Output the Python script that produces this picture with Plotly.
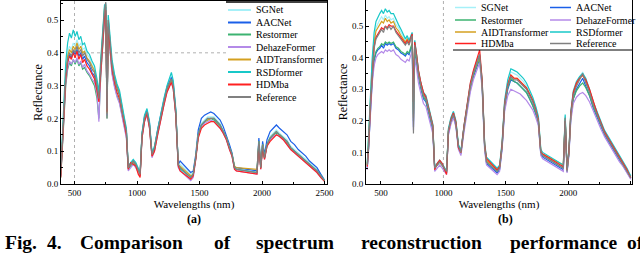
import plotly.graph_objects as go

WAVELENGTH = [
    390, 400, 415, 430, 445, 460, 475, 490, 505, 520,
    535, 550, 565, 580, 600, 620, 640, 660, 680, 695,
    710, 725, 740, 750, 760, 770, 785, 800, 820, 840,
    860, 880, 900, 915, 930, 950, 970, 990, 1010, 1025,
    1040, 1060, 1080, 1100, 1120, 1140, 1165, 1190, 1215, 1240,
    1260, 1275, 1290, 1310, 1330, 1345, 1430, 1450, 1470, 1490,
    1515, 1540, 1565, 1590, 1615, 1640, 1665, 1690, 1715, 1740,
    1760, 1780, 1795, 1960, 1975, 1990, 2005, 2020, 2040, 2065,
    2090, 2115, 2140, 2170, 2200, 2230, 2260, 2290, 2320, 2350,
    2380, 2410, 2440, 2470, 2500]

NAMES = ["SGNet", "AACNet", "Restormer", "DehazeFormer",
         "AIDTransformer", "RSDformer", "HDMba", "Reference"]
COLORS = ["#a6f0f8", "#1a5fe8", "#3cb371", "#b48ae8",
          "#d4a020", "#18c8c8", "#ff2020", "#808080"]

# ---------------- panel (a) ----------------
A_SGNET = [
    0.035, 0.110, 0.230, 0.345, 0.400, 0.420, 0.410, 0.430, 0.420, 0.440,
    0.420, 0.430, 0.410, 0.415, 0.395, 0.385, 0.365, 0.350, 0.310, 0.270,
    0.370, 0.460, 0.540, 0.550, 0.230, 0.510, 0.430, 0.370, 0.330, 0.300,
    0.280, 0.230, 0.195, 0.165, 0.055, 0.065, 0.075, 0.065, 0.045, 0.035,
    0.155, 0.205, 0.225, 0.185, 0.095, 0.115, 0.165, 0.215, 0.255, 0.295,
    0.320, 0.330, 0.310, 0.225, 0.065, 0.060, 0.030, 0.035, 0.085, 0.155,
    0.185, 0.195, 0.205, 0.205, 0.205, 0.195, 0.185, 0.165, 0.145, 0.115,
    0.095, 0.055, 0.050, 0.040, 0.135, 0.055, 0.125, 0.085, 0.125, 0.145,
    0.155, 0.165, 0.155, 0.145, 0.135, 0.115, 0.105, 0.095, 0.085, 0.075,
    0.065, 0.055, 0.045, 0.030, 0.012]
A_AACNET = [
    0.025, 0.095, 0.215, 0.325, 0.375, 0.395, 0.385, 0.405, 0.395, 0.410,
    0.390, 0.400, 0.380, 0.390, 0.370, 0.360, 0.340, 0.330, 0.295, 0.255,
    0.350, 0.440, 0.520, 0.540, 0.210, 0.490, 0.410, 0.360, 0.320, 0.295,
    0.275, 0.225, 0.190, 0.160, 0.050, 0.060, 0.070, 0.060, 0.040, 0.030,
    0.150, 0.205, 0.225, 0.185, 0.090, 0.110, 0.165, 0.215, 0.255, 0.295,
    0.315, 0.325, 0.305, 0.225, 0.060, 0.070, 0.035, 0.040, 0.090, 0.165,
    0.200, 0.210, 0.215, 0.220, 0.215, 0.205, 0.195, 0.175, 0.150, 0.120,
    0.095, 0.050, 0.050, 0.040, 0.140, 0.055, 0.130, 0.090, 0.135, 0.160,
    0.170, 0.180, 0.170, 0.160, 0.150, 0.130, 0.120, 0.105, 0.095, 0.085,
    0.070, 0.060, 0.050, 0.030, 0.012]
A_RESTORMER = [
    0.020, 0.085, 0.200, 0.300, 0.350, 0.370, 0.360, 0.380, 0.365, 0.380,
    0.360, 0.370, 0.350, 0.355, 0.340, 0.330, 0.315, 0.300, 0.260, 0.200,
    0.330, 0.420, 0.500, 0.520, 0.200, 0.470, 0.395, 0.340, 0.300, 0.270,
    0.250, 0.210, 0.175, 0.145, 0.045, 0.055, 0.065, 0.055, 0.035, 0.025,
    0.145, 0.195, 0.215, 0.175, 0.085, 0.105, 0.155, 0.205, 0.245, 0.285,
    0.305, 0.315, 0.295, 0.215, 0.055, 0.050, 0.020, 0.030, 0.080, 0.150,
    0.180, 0.190, 0.195, 0.200, 0.195, 0.185, 0.175, 0.160, 0.140, 0.110,
    0.090, 0.050, 0.045, 0.035, 0.125, 0.050, 0.120, 0.080, 0.120, 0.140,
    0.150, 0.155, 0.150, 0.140, 0.125, 0.110, 0.100, 0.090, 0.080, 0.070,
    0.060, 0.050, 0.040, 0.025, 0.010]
A_DEHAZE = [
    0.025, 0.090, 0.205, 0.310, 0.355, 0.375, 0.365, 0.380, 0.370, 0.385,
    0.365, 0.375, 0.355, 0.365, 0.345, 0.335, 0.320, 0.310, 0.275, 0.190,
    0.335, 0.425, 0.505, 0.525, 0.210, 0.475, 0.390, 0.335, 0.295, 0.265,
    0.245, 0.205, 0.170, 0.140, 0.040, 0.050, 0.060, 0.050, 0.035, 0.025,
    0.140, 0.190, 0.210, 0.170, 0.080, 0.100, 0.150, 0.200, 0.240, 0.280,
    0.300, 0.310, 0.290, 0.210, 0.050, 0.040, 0.010, 0.020, 0.075, 0.145,
    0.175, 0.185, 0.190, 0.195, 0.190, 0.180, 0.170, 0.155, 0.135, 0.105,
    0.085, 0.045, 0.040, 0.030, 0.120, 0.045, 0.115, 0.075, 0.115, 0.135,
    0.145, 0.150, 0.145, 0.135, 0.120, 0.105, 0.095, 0.085, 0.075, 0.065,
    0.055, 0.045, 0.035, 0.020, 0.008]
A_AIDT = [
    0.030, 0.105, 0.225, 0.340, 0.390, 0.410, 0.400, 0.420, 0.410, 0.430,
    0.410, 0.420, 0.400, 0.405, 0.385, 0.375, 0.360, 0.345, 0.310, 0.265,
    0.365, 0.455, 0.535, 0.545, 0.215, 0.500, 0.425, 0.365, 0.325, 0.295,
    0.275, 0.225, 0.190, 0.160, 0.050, 0.060, 0.070, 0.060, 0.040, 0.030,
    0.150, 0.200, 0.220, 0.180, 0.090, 0.110, 0.160, 0.210, 0.250, 0.290,
    0.310, 0.320, 0.300, 0.220, 0.060, 0.055, 0.025, 0.030, 0.080, 0.150,
    0.180, 0.190, 0.195, 0.200, 0.200, 0.190, 0.180, 0.160, 0.140, 0.110,
    0.090, 0.055, 0.050, 0.045, 0.130, 0.050, 0.120, 0.080, 0.120, 0.140,
    0.150, 0.160, 0.150, 0.140, 0.130, 0.110, 0.100, 0.090, 0.080, 0.070,
    0.060, 0.050, 0.040, 0.025, 0.010]
A_RSD = [
    0.040, 0.120, 0.250, 0.370, 0.430, 0.460, 0.445, 0.470, 0.450, 0.465,
    0.440, 0.450, 0.425, 0.430, 0.405, 0.395, 0.375, 0.360, 0.320, 0.280,
    0.380, 0.470, 0.545, 0.550, 0.230, 0.515, 0.440, 0.380, 0.335, 0.305,
    0.285, 0.235, 0.200, 0.170, 0.055, 0.065, 0.075, 0.065, 0.045, 0.035,
    0.155, 0.210, 0.230, 0.190, 0.095, 0.115, 0.165, 0.215, 0.260, 0.300,
    0.325, 0.340, 0.315, 0.230, 0.060, 0.045, 0.020, 0.030, 0.080, 0.150,
    0.180, 0.190, 0.200, 0.200, 0.200, 0.190, 0.180, 0.160, 0.140, 0.110,
    0.090, 0.050, 0.045, 0.035, 0.130, 0.050, 0.120, 0.080, 0.120, 0.140,
    0.150, 0.160, 0.150, 0.140, 0.130, 0.110, 0.100, 0.090, 0.080, 0.070,
    0.060, 0.050, 0.040, 0.025, 0.012]
A_HDMBA = [
    0.020, 0.090, 0.210, 0.320, 0.370, 0.390, 0.380, 0.400, 0.385, 0.405,
    0.380, 0.395, 0.370, 0.380, 0.360, 0.350, 0.335, 0.320, 0.285, 0.250,
    0.340, 0.430, 0.510, 0.530, 0.220, 0.480, 0.400, 0.350, 0.310, 0.280,
    0.260, 0.215, 0.180, 0.150, 0.045, 0.065, 0.060, 0.055, 0.030, 0.020,
    0.140, 0.190, 0.215, 0.170, 0.085, 0.100, 0.150, 0.200, 0.240, 0.280,
    0.300, 0.310, 0.290, 0.210, 0.055, 0.040, 0.015, 0.025, 0.075, 0.140,
    0.170, 0.180, 0.185, 0.190, 0.190, 0.180, 0.170, 0.155, 0.135, 0.105,
    0.085, 0.045, 0.040, 0.030, 0.120, 0.045, 0.110, 0.075, 0.115, 0.130,
    0.140, 0.150, 0.145, 0.135, 0.120, 0.105, 0.095, 0.085, 0.075, 0.065,
    0.055, 0.045, 0.035, 0.020, 0.008]
A_REFERENCE = [
    0.030, 0.100, 0.220, 0.330, 0.380, 0.400, 0.390, 0.410, 0.400, 0.420,
    0.400, 0.410, 0.390, 0.400, 0.380, 0.370, 0.350, 0.340, 0.300, 0.260,
    0.360, 0.450, 0.530, 0.555, 0.200, 0.500, 0.420, 0.360, 0.320, 0.290,
    0.270, 0.220, 0.190, 0.160, 0.050, 0.060, 0.070, 0.060, 0.040, 0.030,
    0.150, 0.200, 0.220, 0.180, 0.090, 0.110, 0.160, 0.210, 0.250, 0.290,
    0.310, 0.320, 0.300, 0.220, 0.060, 0.050, 0.020, 0.030, 0.080, 0.150,
    0.180, 0.190, 0.200, 0.200, 0.200, 0.190, 0.180, 0.160, 0.140, 0.110,
    0.090, 0.050, 0.045, 0.035, 0.130, 0.050, 0.120, 0.080, 0.120, 0.140,
    0.150, 0.160, 0.150, 0.140, 0.130, 0.110, 0.100, 0.090, 0.080, 0.070,
    0.060, 0.050, 0.040, 0.025, 0.010]

# ---------------- panel (b) ----------------
B_SGNET = [
    0.065, 0.130, 0.265, 0.385, 0.460, 0.495, 0.510, 0.520, 0.530, 0.520,
    0.535, 0.525, 0.530, 0.520, 0.525, 0.505, 0.495, 0.480, 0.470, 0.455,
    0.465, 0.455, 0.470, 0.480, 0.230, 0.455, 0.410, 0.355, 0.315, 0.285,
    0.275, 0.245, 0.215, 0.185, 0.055, 0.065, 0.075, 0.065, 0.050, 0.040,
    0.175, 0.210, 0.230, 0.200, 0.125, 0.105, 0.185, 0.255, 0.315, 0.355,
    0.375, 0.395, 0.405, 0.325, 0.125, 0.075, 0.045, 0.055, 0.130, 0.260,
    0.325, 0.355, 0.350, 0.345, 0.335, 0.325, 0.310, 0.290, 0.270, 0.240,
    0.210, 0.105, 0.095, 0.055, 0.215, 0.045, 0.105, 0.225, 0.290, 0.320,
    0.340, 0.355, 0.330, 0.295, 0.255, 0.225, 0.195, 0.165, 0.145, 0.125,
    0.105, 0.085, 0.065, 0.045, 0.025]
B_AACNET = [
    0.050, 0.105, 0.225, 0.330, 0.390, 0.415, 0.425, 0.430, 0.440, 0.430,
    0.445, 0.440, 0.445, 0.440, 0.445, 0.430, 0.425, 0.415, 0.410, 0.405,
    0.415, 0.410, 0.430, 0.440, 0.180, 0.420, 0.385, 0.340, 0.300, 0.270,
    0.260, 0.230, 0.200, 0.170, 0.050, 0.060, 0.070, 0.060, 0.045, 0.035,
    0.160, 0.195, 0.215, 0.185, 0.115, 0.095, 0.175, 0.245, 0.300, 0.340,
    0.360, 0.380, 0.395, 0.310, 0.115, 0.065, 0.035, 0.045, 0.115, 0.240,
    0.300, 0.330, 0.325, 0.320, 0.310, 0.300, 0.290, 0.270, 0.250, 0.220,
    0.195, 0.095, 0.085, 0.045, 0.200, 0.040, 0.095, 0.210, 0.270, 0.300,
    0.320, 0.335, 0.310, 0.280, 0.240, 0.210, 0.180, 0.155, 0.135, 0.115,
    0.095, 0.075, 0.055, 0.035, 0.018]
B_RESTORMER = [
    0.055, 0.110, 0.230, 0.335, 0.395, 0.420, 0.430, 0.435, 0.445, 0.440,
    0.450, 0.445, 0.450, 0.445, 0.450, 0.435, 0.430, 0.420, 0.415, 0.410,
    0.420, 0.415, 0.435, 0.445, 0.200, 0.425, 0.390, 0.345, 0.305, 0.275,
    0.265, 0.235, 0.205, 0.175, 0.050, 0.060, 0.070, 0.060, 0.045, 0.035,
    0.165, 0.200, 0.220, 0.190, 0.120, 0.100, 0.180, 0.250, 0.305, 0.345,
    0.365, 0.385, 0.400, 0.315, 0.120, 0.070, 0.040, 0.050, 0.120, 0.245,
    0.305, 0.335, 0.325, 0.320, 0.310, 0.300, 0.290, 0.270, 0.250, 0.225,
    0.195, 0.095, 0.090, 0.050, 0.205, 0.040, 0.100, 0.215, 0.270, 0.295,
    0.310, 0.320, 0.305, 0.280, 0.245, 0.215, 0.185, 0.160, 0.140, 0.120,
    0.100, 0.080, 0.060, 0.040, 0.020]
B_DEHAZE = [
    0.045, 0.100, 0.215, 0.320, 0.375, 0.400, 0.410, 0.415, 0.420, 0.415,
    0.425, 0.420, 0.425, 0.420, 0.425, 0.410, 0.405, 0.395, 0.390, 0.385,
    0.395, 0.390, 0.410, 0.420, 0.170, 0.400, 0.365, 0.320, 0.285, 0.255,
    0.245, 0.215, 0.190, 0.160, 0.040, 0.050, 0.060, 0.050, 0.040, 0.030,
    0.155, 0.190, 0.210, 0.180, 0.110, 0.090, 0.165, 0.235, 0.290, 0.330,
    0.350, 0.370, 0.385, 0.300, 0.105, 0.060, 0.030, 0.040, 0.110, 0.230,
    0.280, 0.300, 0.295, 0.290, 0.285, 0.275, 0.265, 0.250, 0.235, 0.210,
    0.185, 0.090, 0.080, 0.040, 0.190, 0.035, 0.090, 0.200, 0.255, 0.275,
    0.285, 0.290, 0.280, 0.260, 0.230, 0.200, 0.175, 0.150, 0.130, 0.110,
    0.090, 0.070, 0.055, 0.035, 0.015]
B_AIDT = [
    0.060, 0.125, 0.260, 0.375, 0.450, 0.485, 0.495, 0.505, 0.515, 0.510,
    0.525, 0.515, 0.520, 0.510, 0.515, 0.495, 0.485, 0.470, 0.460, 0.450,
    0.460, 0.450, 0.465, 0.475, 0.210, 0.450, 0.405, 0.355, 0.315, 0.285,
    0.275, 0.245, 0.215, 0.185, 0.050, 0.060, 0.070, 0.060, 0.050, 0.040,
    0.170, 0.205, 0.225, 0.195, 0.120, 0.100, 0.180, 0.250, 0.310, 0.350,
    0.370, 0.390, 0.405, 0.320, 0.120, 0.075, 0.045, 0.055, 0.125, 0.255,
    0.315, 0.345, 0.335, 0.335, 0.325, 0.315, 0.305, 0.285, 0.265, 0.235,
    0.205, 0.105, 0.095, 0.060, 0.210, 0.045, 0.100, 0.220, 0.285, 0.315,
    0.335, 0.345, 0.325, 0.295, 0.255, 0.225, 0.195, 0.165, 0.145, 0.125,
    0.105, 0.085, 0.065, 0.045, 0.022]
B_RSD = [
    0.065, 0.135, 0.275, 0.400, 0.480, 0.515, 0.530, 0.540, 0.550, 0.540,
    0.555, 0.545, 0.550, 0.540, 0.540, 0.520, 0.505, 0.490, 0.475, 0.460,
    0.470, 0.455, 0.470, 0.480, 0.220, 0.455, 0.410, 0.360, 0.320, 0.290,
    0.280, 0.250, 0.220, 0.190, 0.055, 0.065, 0.075, 0.065, 0.050, 0.040,
    0.175, 0.210, 0.230, 0.200, 0.125, 0.105, 0.185, 0.255, 0.315, 0.355,
    0.380, 0.400, 0.410, 0.330, 0.130, 0.085, 0.050, 0.060, 0.135, 0.265,
    0.330, 0.365, 0.360, 0.355, 0.345, 0.335, 0.320, 0.300, 0.275, 0.245,
    0.215, 0.110, 0.100, 0.060, 0.220, 0.050, 0.110, 0.230, 0.295, 0.325,
    0.340, 0.350, 0.335, 0.300, 0.260, 0.230, 0.200, 0.170, 0.150, 0.130,
    0.110, 0.090, 0.070, 0.050, 0.025]
B_HDMBA = [
    0.055, 0.115, 0.245, 0.360, 0.435, 0.465, 0.475, 0.485, 0.495, 0.490,
    0.500, 0.495, 0.505, 0.500, 0.500, 0.485, 0.475, 0.465, 0.455, 0.445,
    0.455, 0.445, 0.465, 0.475, 0.260, 0.450, 0.410, 0.360, 0.320, 0.290,
    0.275, 0.245, 0.215, 0.185, 0.045, 0.065, 0.075, 0.065, 0.045, 0.030,
    0.165, 0.205, 0.225, 0.195, 0.115, 0.100, 0.185, 0.260, 0.320, 0.360,
    0.385, 0.405, 0.425, 0.330, 0.125, 0.080, 0.045, 0.055, 0.125, 0.255,
    0.315, 0.345, 0.335, 0.335, 0.325, 0.315, 0.305, 0.285, 0.265, 0.235,
    0.205, 0.100, 0.095, 0.055, 0.200, 0.045, 0.105, 0.225, 0.290, 0.320,
    0.335, 0.345, 0.330, 0.300, 0.260, 0.225, 0.195, 0.165, 0.145, 0.125,
    0.105, 0.085, 0.065, 0.045, 0.020]
B_REFERENCE = [
    0.060, 0.120, 0.250, 0.360, 0.430, 0.460, 0.470, 0.480, 0.490, 0.480,
    0.500, 0.490, 0.500, 0.490, 0.500, 0.480, 0.470, 0.460, 0.450, 0.440,
    0.450, 0.440, 0.460, 0.470, 0.160, 0.440, 0.400, 0.350, 0.310, 0.280,
    0.270, 0.240, 0.210, 0.180, 0.050, 0.060, 0.070, 0.060, 0.050, 0.040,
    0.170, 0.200, 0.220, 0.190, 0.120, 0.100, 0.180, 0.250, 0.310, 0.350,
    0.370, 0.390, 0.410, 0.320, 0.120, 0.070, 0.040, 0.050, 0.120, 0.250,
    0.310, 0.340, 0.330, 0.330, 0.320, 0.310, 0.300, 0.280, 0.260, 0.230,
    0.200, 0.100, 0.090, 0.050, 0.210, 0.040, 0.100, 0.220, 0.280, 0.310,
    0.330, 0.350, 0.320, 0.290, 0.250, 0.220, 0.190, 0.160, 0.140, 0.120,
    0.100, 0.080, 0.060, 0.040, 0.020]

A_SERIES = [A_SGNET, A_AACNET, A_RESTORMER, A_DEHAZE, A_AIDT, A_RSD, A_HDMBA, A_REFERENCE]
B_SERIES = [B_SGNET, B_AACNET, B_RESTORMER, B_DEHAZE, B_AIDT, B_RSD, B_HDMBA, B_REFERENCE]

X_TICKS = [500, 1000, 1500, 2000, 2500]
Y_TICKS = [0.0, 0.1, 0.2, 0.3, 0.4, 0.5]
CAPTION_WORDS = ["Fig.", "4.", "Comparison", "of", "spectrum", "reconstruction", "performance", "of"]

SERIF = "Liberation Serif, Times New Roman, serif"
W, H = 640, 255


def px_x(p):
    return p / W


def px_y(p):
    return (H - p) / H


fig = go.Figure()
for name, color, ya, yb in zip(NAMES, COLORS, A_SERIES, B_SERIES):
    fig.add_trace(go.Scatter(x=WAVELENGTH, y=ya, name=name, mode="lines",
                             line=dict(color=color, width=1.2),
                             xaxis="x", yaxis="y", showlegend=False))
    fig.add_trace(go.Scatter(x=WAVELENGTH, y=yb, name=name, mode="lines",
                             line=dict(color=color, width=1.2),
                             xaxis="x2", yaxis="y2", showlegend=False))

axis_common = dict(showline=True, linecolor="black", linewidth=1, mirror=True,
                   ticks="inside", ticklen=3, tickcolor="black", showgrid=False,
                   zeroline=False, automargin=False,
                   tickfont=dict(family=SERIF, size=9, color="black"))

fig.update_layout(
    template="none",
    width=W, height=H, margin=dict(l=0, r=0, t=0, b=0, pad=0),
    paper_bgcolor="white", plot_bgcolor="white",
    font=dict(family=SERIF, color="black"),
    xaxis=dict(domain=[px_x(61), px_x(327)], anchor="y", range=[392, 2520],
               tickvals=X_TICKS, minor=dict(dtick=250, ticks="inside", ticklen=2, tickcolor="black"),
               title=dict(text="Wavelengths (nm)", font=dict(family=SERIF, size=11), standoff=2),
               **axis_common),
    yaxis=dict(domain=[px_y(184), px_y(1)], anchor="x", range=[0, 0.558],
               tickvals=Y_TICKS, tickformat=".1f",
               minor=dict(dtick=0.05, ticks="inside", ticklen=2, tickcolor="black"),
               title=dict(text="Reflectance", font=dict(family=SERIF, size=12), standoff=1),
               **axis_common),
    xaxis2=dict(domain=[px_x(366), px_x(632)], anchor="y2", range=[380, 2510],
                tickvals=X_TICKS, minor=dict(dtick=250, ticks="inside", ticklen=2, tickcolor="black"),
                title=dict(text="Wavelengths (nm)", font=dict(family=SERIF, size=11), standoff=2),
                **axis_common),
    yaxis2=dict(domain=[px_y(184), px_y(0)], anchor="x2", range=[0, 0.583],
                tickvals=Y_TICKS, tickformat=".1f",
                minor=dict(dtick=0.05, ticks="inside", ticklen=2, tickcolor="black"),
                title=dict(text="Reflectance", font=dict(family=SERIF, size=12), standoff=1),
                **axis_common),
    showlegend=False,
)

# dotted reference lines
dot = dict(color="#b0b0b0", width=1, dash="dot")
fig.add_shape(type="line", xref="x", yref="y domain", x0=500, x1=500, y0=0, y1=1, line=dot, layer="below")
fig.add_shape(type="line", xref="x domain", yref="y", x0=0, x1=1, y0=0.4, y1=0.4, line=dot, layer="below")
fig.add_shape(type="line", xref="x2", yref="y2 domain", x0=1000, x1=1000, y0=0, y1=1, line=dot, layer="below")

# ---- legend (a): single column, top-right of panel a ----
fig.add_shape(type="rect", xref="paper", yref="paper", x0=px_x(226), x1=px_x(326.5),
              y0=px_y(104), y1=px_y(2), fillcolor="white", line=dict(width=0))
fig.add_shape(type="line", xref="paper", yref="paper", x0=px_x(226), x1=px_x(327),
              y0=px_y(2), y1=px_y(2), line=dict(color="black", width=1.5))
LEG_A_ROWS = [10, 22.5, 34.5, 47, 59.5, 72, 84.5, 97]
for name, color, ry in zip(NAMES, COLORS, LEG_A_ROWS):
    fig.add_shape(type="line", xref="paper", yref="paper", x0=px_x(228), x1=px_x(251),
                  y0=px_y(ry), y1=px_y(ry), line=dict(color=color, width=2))
    fig.add_annotation(text=name, xref="paper", yref="paper", x=px_x(254), y=px_y(ry),
                       xanchor="left", yanchor="middle", showarrow=False,
                       font=dict(family=SERIF, size=10, color="black"))

# ---- legend (b): two columns, top-right of panel b ----
fig.add_shape(type="rect", xref="paper", yref="paper", x0=px_x(453), x1=px_x(631.5),
              y0=px_y(50), y1=px_y(0.5), fillcolor="white", line=dict(width=0))
fig.add_shape(type="line", xref="paper", yref="paper", x0=px_x(453), x1=px_x(632),
              y0=px_y(50), y1=px_y(50), line=dict(color="black", width=1))
LEG_B_ROWS = [7.5, 20, 32, 43.5]
LEG_B_COLS = [455, 550]
for i, (name, color) in enumerate(zip(NAMES, COLORS)):
    cx = LEG_B_COLS[i % 2]
    ry = LEG_B_ROWS[i // 2]
    fig.add_shape(type="line", xref="paper", yref="paper", x0=px_x(cx), x1=px_x(cx + 21),
                  y0=px_y(ry), y1=px_y(ry), line=dict(color=color, width=1.5))
    fig.add_annotation(text=name, xref="paper", yref="paper", x=px_x(cx + 24), y=px_y(ry),
                       xanchor="left", yanchor="middle", showarrow=False,
                       font=dict(family=SERIF, size=10, color="black"))

# panel labels
fig.add_annotation(text="<b>(a)</b>", xref="paper", yref="paper", x=px_x(194), y=px_y(219),
                   xanchor="center", yanchor="middle",
                   showarrow=False, font=dict(family=SERIF, size=12, color="black"))
fig.add_annotation(text="<b>(b)</b>", xref="paper", yref="paper", x=px_x(505), y=px_y(219),
                   xanchor="center", yanchor="middle",
                   showarrow=False, font=dict(family=SERIF, size=12, color="black"))

# caption (cut off at the bottom of the image)
CAPTION_X = [3, 45, 78, 212, 254, 359, 508, 625]
for word, xpos in zip(CAPTION_WORDS, CAPTION_X):
    fig.add_annotation(text="<b>" + word + "</b>", xref="paper", yref="paper",
                       x=px_x(xpos), y=px_y(242), xanchor="left", yanchor="middle",
                       showarrow=False, font=dict(family=SERIF, size=19.5, color="black"))

fig.write_html("out.html", config={"displayModeBar": False},
               post_script="document.body.style.margin='0px';document.body.style.padding='0px';")
